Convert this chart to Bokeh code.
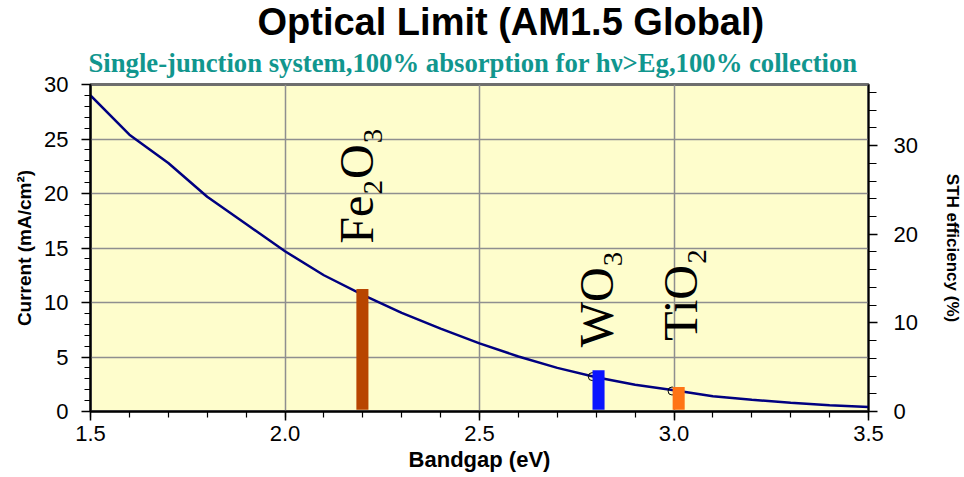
import numpy as np
from bokeh.plotting import figure
from bokeh.models import Range1d, LinearAxis, Title, SingleIntervalTicker, PrintfTickFormatter
from bokeh.core.properties import value
from bokeh.embed import file_html
from bokeh.resources import INLINE

# ---- data ----
bandgap = [1.5, 1.6, 1.7, 1.8, 1.9, 2.0, 2.1, 2.2, 2.3, 2.4, 2.5,
           2.6, 2.7, 2.8, 2.9, 3.0, 3.1, 3.2, 3.3, 3.4, 3.5]
current = [29.0, 25.4, 22.8, 19.7, 17.2, 14.7, 12.5, 10.7, 9.05, 7.6, 6.25,
           5.05, 4.0, 3.15, 2.45, 1.95, 1.4, 1.08, 0.8, 0.58, 0.42]

materials = ["Fe₂O₃", "WO₃", "TiO₂"]
bar_center = [2.199, 2.806, 3.012]
bar_top = [11.25, 3.78, 2.25]
bar_colors = ["#B84500", "#0A14FF", "#FF7415"]
label_y = [15.4, 5.9, 6.5]

marker_eg = [2.79, 2.995]
marker_current = [3.2, 1.88]

x_ticks = [1.5, 2.0, 2.5, 3.0, 3.5]
y_ticks = [0, 5, 10, 15, 20, 25, 30]
sth_ticks = [0, 10, 20, 30]
sth_factor = 1.23  # STH(%) = J(mA/cm2) * 1.23 V / 100 mW/cm2 * 100

title_text = "Optical Limit (AM1.5 Global)"
subtitle_text = "Single-junction system,100% absorption for hν>Eg,100% collection"

p = figure(width=964, height=477, x_range=Range1d(1.5, 3.5), y_range=Range1d(0, 30),
           output_backend="svg", toolbar_location=None,
           min_border_left=90, min_border_right=96, min_border_top=84, min_border_bottom=66,
           background_fill_color="#FEFDCC", border_fill_color="white")
p.title.visible = False
p.outline_line_color = "#6e6e6e"
p.outline_line_width = 3

# secondary axis
p.extra_y_ranges = {"sth": Range1d(0, 30 * sth_factor)}
raxis = LinearAxis(y_range_name="sth", axis_label="STH efficiency (%)",
                   ticker=SingleIntervalTicker(interval=10, num_minor_ticks=5))
p.add_layout(raxis, "right")

p.xaxis.ticker = SingleIntervalTicker(interval=0.5, num_minor_ticks=5)
p.yaxis[0].ticker = SingleIntervalTicker(interval=5, num_minor_ticks=5)
p.xaxis.axis_label = "Bandgap (eV)"
p.yaxis[0].axis_label = "Current (mA/cm²)"
p.xaxis.formatter = PrintfTickFormatter(format="%.1f")

for ax in [p.xaxis[0], p.yaxis[0], raxis]:
    ax.axis_line_color = "black"
    ax.axis_line_width = 2
    ax.major_tick_line_color = "black"
    ax.minor_tick_line_color = "black"
    ax.major_tick_line_width = 1.5
    ax.minor_tick_line_width = 1.2
    ax.major_tick_in = 0
    ax.minor_tick_in = 0
    ax.major_tick_out = 9
    ax.minor_tick_out = 6
    ax.major_label_text_font = "Liberation Sans"
    ax.major_label_text_font_size = "22px"
    ax.major_label_text_color = "black"
    ax.axis_label_text_font = "Liberation Sans"
    ax.axis_label_text_font_style = "bold"
    ax.axis_label_text_color = "black"

raxis.axis_line_width = 1.5
raxis.minor_tick_out = 8
p.yaxis[0].axis_label_text_font_size = "19px"
raxis.axis_label_text_font_size = "17px"
p.xaxis.axis_label_text_font_size = "22px"
p.xaxis.major_label_standoff = 5
p.xaxis.axis_label_standoff = 3
p.yaxis[0].major_label_standoff = 13
p.yaxis[0].axis_label_standoff = 6
raxis.major_label_standoff = 16
raxis.axis_label_standoff = 22

p.xgrid.grid_line_color = "#8f8f8f"
p.xgrid.grid_line_width = 1.5
p.ygrid.grid_line_color = "#8f8f8f"
p.ygrid.grid_line_width = 1.5

# titles
p.add_layout(Title(text=subtitle_text, align="left", text_font="Liberation Serif",
                   text_font_style="bold", text_font_size="26.7px", text_color="#11968E",
                   offset=-2, standoff=14), "above")
main_title = Title(text=title_text, align="left", text_font="Liberation Sans",
                   text_font_style="bold", text_font_size="38px", text_color="black",
                   offset=167, standoff=0)
try:
    main_title.standoff = -8
except Exception:
    pass
p.add_layout(main_title, "above")

# curve
p.line(bandgap, current, line_color="#000080", line_width=2.5)
p.scatter(marker_eg, marker_current, marker="circle", size=8, fill_color=None,
          line_color="black", line_width=1)
p.vbar(x=bar_center, width=0.031, bottom=0.15, top=bar_top, fill_color=bar_colors,
       line_color=None)

label_dx = [-0.015, -0.005, 0.005]
label_x = [c + d for c, d in zip(bar_center, label_dx)]
p.text(x=label_x, y=label_y, text=materials, angle=np.pi / 2,
       text_font=value("Liberation Serif"), text_font_size="48px",
       text_align="left", text_baseline="alphabetic", text_color="black")

open("out.html", "w").write(file_html(p, INLINE))
